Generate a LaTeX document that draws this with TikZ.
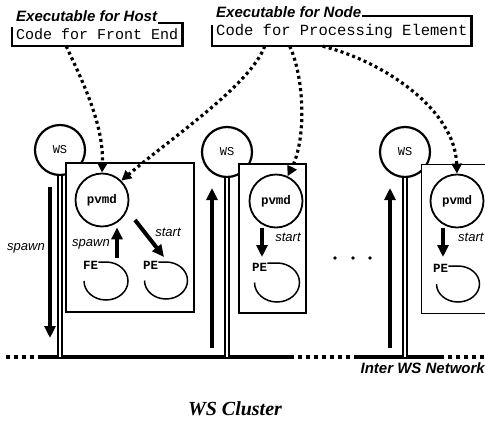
\documentclass[tikz,border=0pt]{standalone}
\usepackage{fontspec}
\setmainfont{Liberation Serif}
\setsansfont{Liberation Sans}
\setmonofont{Liberation Mono}
\usetikzlibrary{calc,positioning,arrows.meta}
\tikzset{
wsnode/.style={
  circle,draw,
  line width=2.2pt,
  minimum size=50pt,
  inner sep=0pt,
  fill=white,
  font=\ttfamily\fontsize{12}{14}\selectfont
  },
pvmdnode/.style={
  wsnode,
  line width=1.8pt,
  minimum size=53pt,
  font=\ttfamily\bfseries\fontsize{12.5}{14}\selectfont
  },
hostbox/.style={draw,fill=white,line width=1.4pt,inner sep=0pt},
codebox/.style={
  anchor=west,
  inner xsep=4pt,
  inner ysep=0pt,
  font=\ttfamily\fontsize{15}{18}\selectfont
  },
boxline/.style={line width=2.2pt},
exelabel/.style={
  fill=white,
  inner sep=1pt,
  anchor=base west,
  font=\sffamily\bfseries\itshape\fontsize{15}{18}\selectfont
  },
elabel/.style={inner sep=0pt,anchor=base west,font=\ttfamily\bfseries\fontsize{12.5}{14}\selectfont},
actlabel/.style={inner sep=0pt,font=\sffamily\itshape\fontsize{13}{15}\selectfont},
loopline/.style={line width=1.5pt},
dotarrow/.style={line width=3.2pt,dash pattern=on 3pt off 3.2pt,-{Triangle[length=10pt,width=10pt]}},
bigarrow/.style={line width=4pt,->},
netline/.style={line width=3.4pt},
netdot/.style={line width=3.4pt,dash pattern=on 4pt off 4pt},
stem/.style={double,line width=1.6pt,double distance=2.4pt}
}

\begin{document}
\begin{tikzpicture}[x=1pt,y=-1pt,>={Triangle[length=12pt,width=11pt]}]
    \useasboundingbox (0,0) rectangle (485,421);

    % executables
    \node[codebox,minimum height=23pt] (hostcode) at (12,34.5) {Code for Front End};
    \node[exelabel] (hostlbl) at ([xshift=3pt,yshift=1pt]hostcode.north west) {Executable for Host};
    \draw[boxline] (hostlbl.east |- hostcode.north) -| (hostcode.south east) -| ([yshift=-4pt]hostcode.north west);

    \node[codebox,font=\ttfamily\fontsize{15.5}{18}\selectfont,minimum height=30pt] (nodecode) at (212,31) {Code for Processing Element};
    \node[exelabel] (nodelbl) at ([xshift=3pt,yshift=-2pt]nodecode.north west) {Executable for Node};
    \draw[boxline] (nodelbl.east |- nodecode.north) -| (nodecode.south east) -| ([yshift=-9pt]nodecode.north west);

    % network
    \coordinate (net0) at (6,357);
    \coordinate (netA) at (40,357);
    \coordinate (netB) at (290,357);
    \coordinate (netC) at (358,357);
    \coordinate (netD) at (440,357);
    \coordinate (netE) at (490,357);
    \draw[netdot] (net0) -- (netA);
    \draw[netline] (netA) -- (netB);
    \draw[netdot] (netB) -- (netC);
    \draw[netline] (netC) -- (netD);
    \draw[netdot] (netD) -- (netE);
    \node[inner sep=0pt,anchor=north east,font=\sffamily\bfseries\itshape\fontsize{15}{18}\selectfont] (netlbl) at (485,362) {Inter WS Network};

    % workstations
    \node[wsnode] (ws1) at (60,150) {WS};
    \node[wsnode] (ws2) at (227,152) {WS};
    \node[wsnode] (ws3) at (405,152) {WS};
    \draw[stem] (ws1.south) -- (ws1.south |- netA);
    \draw[stem] (ws2.south) -- (ws2.south |- netA);
    \draw[stem] (ws3.south) -- (ws3.south |- netA);

    \node[hostbox,minimum width=128pt,minimum height=149pt] (hbox1) at (130,237.5) {};
    \node[hostbox,minimum width=67pt,minimum height=149pt] (hbox2) at (272.5,238.5) {};
    \node[hostbox,minimum width=80pt,minimum height=149pt,anchor=north west] (hbox3) at (421,164) {};

    % spawn / start outside
    \coordinate (dn1a) at (50,187);
    \coordinate (dn1b) at (50,338);
    \coordinate (up2a) at (212,348);
    \coordinate (up2b) at (212,188);
    \coordinate (up3a) at (390,348);
    \coordinate (up3b) at (390,188);
    \draw[bigarrow] (dn1a) -- (dn1b);
    \draw[bigarrow] (up2a) -- (up2b);
    \draw[bigarrow] (up3a) -- (up3b);
    \node[actlabel] (spawn0) at (26,248) {spawn};

    % daemons
    \node[pvmdnode] (pvmd1) at (102,200) {pvmd};
    \node[pvmdnode] (pvmd2) at (276,201) {pvmd};
    \node[pvmdnode] (pvmd3) at (457,201) {pvmd};

    % processes
    \node[elabel] (fe1) at (83,269) {FE};
    \draw[loopline] (fe1.east |- 106,262) -- (106,262) arc[start angle=90,end angle=-180,x radius=22pt,y radius=19pt];
    \node[elabel] (pe1) at (143,269) {PE};
    \draw[loopline] (pe1.east |- 166,262) -- (166,262) arc[start angle=90,end angle=-180,x radius=21.5pt,y radius=18.5pt];
    \node[elabel] (pe2) at (252,271) {PE};
    \draw[loopline] (pe2.east |- 277,263) -- (277,263) arc[start angle=90,end angle=-180,x radius=22.5pt,y radius=19.5pt];
    \node[elabel] (pe3) at (433,272) {PE};
    \draw[loopline] (pe3.east |- 458,266) -- (458,266) arc[start angle=90,end angle=-180,x radius=21.5pt,y radius=18pt];

    % spawn / start inside
    \coordinate (fe1top) at (117,258);
    \coordinate (st1a) at (135,220);
    \coordinate (st1b) at (164,257);
    \coordinate (st2a) at (262,228);
    \coordinate (st2b) at (262,257);
    \coordinate (st3a) at (443,228);
    \coordinate (st3b) at (443,257);
    \draw[bigarrow] (fe1top) -- (fe1top |- pvmd1.south);
    \draw[bigarrow] (st1a) -- (st1b);
    \draw[bigarrow] (st2a) -- (st2b);
    \draw[bigarrow] (st3a) -- (st3b);
    \node[actlabel] (spawn1) at (91,244) {spawn};
    \node[actlabel] (start1) at (168,232) {start};
    \node[actlabel] (start2) at (288,237) {start};
    \node[actlabel,anchor=west] (start3) at (458,237) {start};

    \foreach \x in {335,353,370} \fill (\x,258) circle (1.8pt);

    % loading the code
    \draw[dotarrow] ([xshift=-31pt]hostcode.south) .. controls (82,80) and (104,125) .. (pvmd1.north);
    \draw[dotarrow] ([xshift=-77pt]nodecode.south) .. controls (250,85) and (175,135) .. (pvmd1.45);
    \draw[dotarrow] ([xshift=-52pt]nodecode.south) .. controls (305,80) and (306,140) .. (pvmd2.65);
    \draw[dotarrow] ([xshift=-19pt]nodecode.south) .. controls (385,62) and (455,110) .. (pvmd3.north);

    \node[font=\rmfamily\bfseries\itshape\fontsize{20}{24}\selectfont] (cluster) at (235,409) {WS Cluster};
\end{tikzpicture}
\end{document}
